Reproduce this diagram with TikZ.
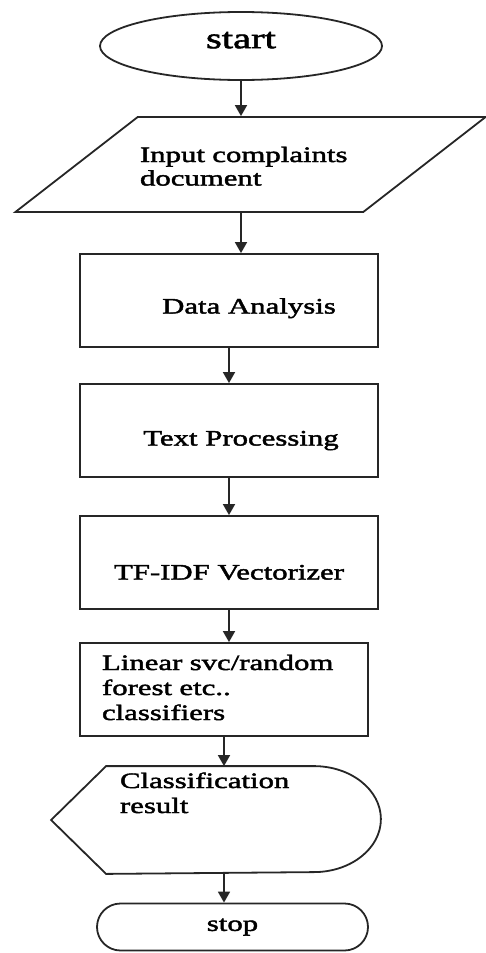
\documentclass[tikz,border=0pt]{standalone}
\usepackage{fontspec}
\newfontfamily\flowfont[FakeStretch=1.4,FakeBold=2]{Liberation Serif}
\usetikzlibrary{arrows.meta,shapes.geometric,shapes.misc}

\tikzset{
	box/.style={draw=black!85, line width=1.8pt, rectangle, inner sep=0pt, font=\flowfont\fontsize{22}{25}\selectfont},
	flow/.style={-{Triangle[length=11pt,width=12pt]}, line width=1.8pt, black!85},
}

\begin{document}
\begin{tikzpicture}[x=1pt, y=-1pt]
		\useasboundingbox (0,0) rectangle (486,953);
		
		\node [box, ellipse, minimum width=282pt, minimum height=68pt, font=\flowfont\fontsize{29}{32}\selectfont, text depth=12pt] (start) at (241,46) {start};
		\node [box, trapezium, trapezium left angle=38.4, trapezium right angle=141.6, trapezium stretches=true, minimum width=471pt, minimum height=95pt, text width=221pt, align=left, text height=45pt, text depth=50pt, font=\flowfont\fontsize{22}{23.5}\selectfont] (input) at (250.5,164.5) {Input complaints\\document};
		
		\node [box, minimum width=298pt, minimum height=93pt, text height=31pt, text depth=5pt] (data) at (229,300.5) {\hspace{40pt}Data Analysis};
		\node [box, minimum width=298pt, minimum height=93pt, text height=35pt, text depth=5pt] (textproc) at (229,430.5) {\hspace{24pt}Text Processing};
		\node [box, minimum width=298pt, minimum height=93pt, text height=39pt, text depth=5pt] (tfidf) at (229,562.5) {TF-IDF Vectorizer\hspace{17pt}};
		\node [box, minimum width=288pt, minimum height=93pt, text width=244pt, align=left, text height=27pt, text depth=66pt] (linear) at (224,689.5) {Linear svc/random\\forest etc..\\classifiers};
		
		\node [box, draw=none, minimum width=206pt, text width=180pt, align=left, text height=21pt, text depth=85pt] (result) at (210,820) {Classification\\result};
		\draw [line width=1.8pt, black!85] (result.north west) -- (result.north east) arc [start angle=90, end angle=-90, x radius=67pt, y radius=53pt] -- (result.south west) -- ([xshift=-55pt]result.west) -- cycle;
		
		\node [box, rounded rectangle, minimum width=271pt, minimum height=47pt] (stop) at (232.5,927) {stop};
		
		\draw [flow] (start.south) -- (start.south |- input.north);
		\draw [flow] (start.south |- input.south) -- (start.south |- data.north);
		\draw [flow] (data.south) -- (textproc.north);
		\draw [flow] (textproc.south) -- (tfidf.north);
		\draw [flow] (tfidf.south) -- (tfidf.south |- linear.north);
		\draw [flow] (linear.south) -- (linear.south |- result.north);
		\draw [flow] (linear.south |- result.south) -- (linear.south |- stop.north);
		
\end{tikzpicture}
\end{document}
